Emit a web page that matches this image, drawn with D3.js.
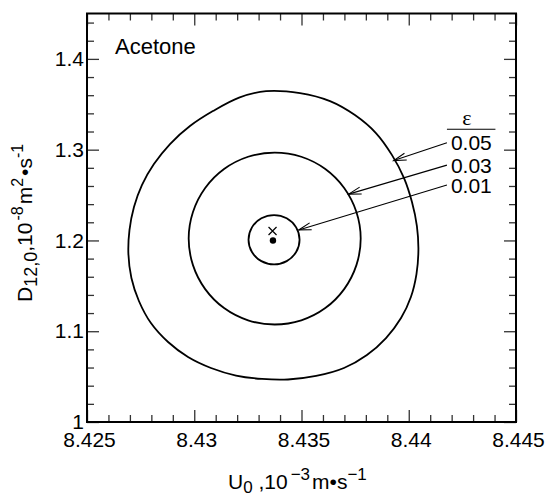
<!DOCTYPE html>
<html>
<head>
<meta charset="utf-8">
<script src="https://cdn.jsdelivr.net/npm/d3@7"></script>
<style>
  html, body { margin: 0; padding: 0; background: #fff; }
  svg { display: block; font-family: "Liberation Sans", Arial, sans-serif; }
</style>
</head>
<body>
<svg id="chart" width="547" height="494"></svg>
<script>
// ---------- data ----------
const xDomain = [8.425, 8.445];
const yDomain = [1.0, 1.45];
const xMajorTicks = [8.425, 8.43, 8.435, 8.44, 8.445];
const xTickLabels = ["8.425", "8.43", "8.435", "8.44", "8.445"];
const yMajorTicks = [1.0, 1.1, 1.2, 1.3, 1.4];
const yTickLabels = ["1", "1.1", "1.2", "1.3", "1.4"];

// contour eps = 0.05 (U0 in 1e-3 m/s, D in 1e-8 m2/s)
const outerU = [8.43335, 8.43493, 8.43633, 8.43749, 8.43847, 8.43922, 8.43978, 8.44015, 8.44038, 8.44045, 8.44036, 8.44010, 8.43964, 8.43894, 8.43805, 8.43698, 8.43568, 8.43437, 8.43316, 8.43195, 8.43078, 8.42971, 8.42878, 8.42798, 8.42742, 8.42707, 8.42693, 8.42698, 8.42719, 8.42756, 8.42812, 8.42887, 8.42980, 8.43087, 8.43209];
const outerD = [1.3645, 1.3623, 1.3535, 1.3381, 1.3183, 1.2940, 1.2687, 1.2423, 1.2159, 1.1894, 1.1630, 1.1377, 1.1145, 1.0925, 1.0738, 1.0595, 1.0507, 1.0468, 1.0474, 1.0512, 1.0595, 1.0716, 1.0881, 1.1090, 1.1333, 1.1586, 1.1850, 1.2114, 1.2368, 1.2610, 1.2841, 1.3062, 1.3260, 1.3425, 1.3574];
// contour eps = 0.03
const midU = [8.43776, 8.43756, 8.43699, 8.43611, 8.43499, 8.43375, 8.43251, 8.43139, 8.43051, 8.42994, 8.42974, 8.42994, 8.43051, 8.43139, 8.43251, 8.43375, 8.43499, 8.43611, 8.43699, 8.43756];
const midD = [1.2021, 1.2314, 1.2578, 1.2787, 1.2922, 1.2968, 1.2922, 1.2787, 1.2578, 1.2314, 1.2021, 1.1728, 1.1464, 1.1255, 1.1120, 1.1074, 1.1120, 1.1255, 1.1464, 1.1728];
// contour eps = 0.01
const innerU = [8.43491, 8.43475, 8.43431, 8.43372, 8.43313, 8.43269, 8.43253, 8.43269, 8.43313, 8.43372, 8.43431, 8.43475];
const innerD = [1.2008, 1.2144, 1.2244, 1.2280, 1.2244, 1.2144, 1.2008, 1.1872, 1.1772, 1.1736, 1.1772, 1.1872];

// exact solution (dot) and estimate (cross)
const dotPoint = [8.43367, 1.2000];
const crossPoint = [8.43365, 1.2104];

// legend labels and arrows (tail -> tip)
const epsLabels = ["0.05", "0.03", "0.01"];
const arrowTailU = [8.44178, 8.44178, 8.44178];
const arrowTailD = [1.3076, 1.2830, 1.2610];
const arrowTipU = [8.43930, 8.43720, 8.43487];
const arrowTipD = [1.2880, 1.2510, 1.2116];

// ---------- layout ----------
const svg = d3.select("#chart");
const L = 87, R = 516, T = 13.5, B = 422;
const x = d3.scaleLinear().domain(xDomain).range([L, R]);
const y = d3.scaleLinear().domain(yDomain).range([B, T]);

const xMinor = d3.range(0, 21).map(i => 8.425 + i * 0.001).filter(v => !xMajorTicks.some(m => Math.abs(m - v) < 1e-7));
const yMinor = d3.range(0, 23).map(i => 1.0 + i * 0.02).filter(v => v <= 1.4501 && !yMajorTicks.some(m => Math.abs(m - v) < 1e-7));

const tickStroke = "#333";
function styleAxis(g) {
  g.select(".domain").remove();
  g.selectAll(".tick line").attr("stroke", tickStroke).attr("stroke-width", 1.3);
}

// bottom
svg.append("g").attr("transform", `translate(0,${B})`)
  .call(d3.axisBottom(x).tickValues(xMajorTicks).tickSize(-12).tickPadding(10)
    .tickFormat((d, i) => xTickLabels[i]))
  .call(styleAxis)
  .call(g => g.selectAll("text").attr("font-size", 21).attr("fill", "#000")
    .attr("font-family", "Liberation Sans, Arial, sans-serif").attr("dx", 2));
svg.append("g").attr("transform", `translate(0,${B})`)
  .call(d3.axisBottom(x).tickValues(xMinor).tickSize(-7).tickFormat(""))
  .call(styleAxis);
// top
svg.append("g").attr("transform", `translate(0,${T})`)
  .call(d3.axisTop(x).tickValues(xMajorTicks).tickSize(-12).tickFormat(""))
  .call(styleAxis);
svg.append("g").attr("transform", `translate(0,${T})`)
  .call(d3.axisTop(x).tickValues(xMinor).tickSize(-7).tickFormat(""))
  .call(styleAxis);
// left
svg.append("g").attr("transform", `translate(${L},0)`)
  .call(d3.axisLeft(y).tickValues(yMajorTicks).tickSize(-12).tickPadding(3)
    .tickFormat((d, i) => yTickLabels[i]))
  .call(styleAxis)
  .call(g => g.selectAll("text").attr("font-size", 21).attr("fill", "#000")
    .attr("font-family", "Liberation Sans, Arial, sans-serif"));
svg.append("g").attr("transform", `translate(${L},0)`)
  .call(d3.axisLeft(y).tickValues(yMinor).tickSize(-7).tickFormat(""))
  .call(styleAxis);
// right
svg.append("g").attr("transform", `translate(${R},0)`)
  .call(d3.axisRight(y).tickValues(yMajorTicks).tickSize(-12).tickFormat(""))
  .call(styleAxis);
svg.append("g").attr("transform", `translate(${R},0)`)
  .call(d3.axisRight(y).tickValues(yMinor).tickSize(-7).tickFormat(""))
  .call(styleAxis);

// frame
svg.append("rect").attr("x", L).attr("y", T).attr("width", R - L).attr("height", B - T)
  .attr("fill", "none").attr("stroke", "#000").attr("stroke-width", 2);

// contours
const line = d3.line().x(d => x(d[0])).y(d => y(d[1])).curve(d3.curveCatmullRomClosed.alpha(0.5));
const contours = [
  outerU.map((u, i) => [u, outerD[i]]),
  midU.map((u, i) => [u, midD[i]]),
  innerU.map((u, i) => [u, innerD[i]])
];
svg.append("g").selectAll("path").data(contours).join("path")
  .attr("d", line).attr("fill", "none").attr("stroke", "#000").attr("stroke-width", 1.8);

// dot
svg.append("circle").attr("cx", x(dotPoint[0])).attr("cy", y(dotPoint[1])).attr("r", 3.2).attr("fill", "#000");
// cross
const cx = x(crossPoint[0]), cy = y(crossPoint[1]), cs = 4;
svg.append("path").attr("d", `M${cx - cs},${cy - cs}L${cx + cs},${cy + cs}M${cx - cs},${cy + cs}L${cx + cs},${cy - cs}`)
  .attr("stroke", "#000").attr("stroke-width", 1.2).attr("fill", "none");

// arrows
const arrows = epsLabels.map((lab, i) => ({
  lab, x1: x(arrowTailU[i]), y1: y(arrowTailD[i]), x2: x(arrowTipU[i]), y2: y(arrowTipD[i])
}));
const ag = svg.append("g");
arrows.forEach(a => {
  ag.append("line").attr("x1", a.x1).attr("y1", a.y1).attr("x2", a.x2).attr("y2", a.y2)
    .attr("stroke", "#000").attr("stroke-width", 1.1);
  const ang = Math.atan2(a.y1 - a.y2, a.x1 - a.x2);
  const hl = 13, ha = 0.28;
  const p1 = [a.x2 + hl * Math.cos(ang + ha), a.y2 + hl * Math.sin(ang + ha)];
  const p2 = [a.x2 + hl * Math.cos(ang - ha), a.y2 + hl * Math.sin(ang - ha)];
  ag.append("path").attr("d", `M${p1[0]},${p1[1]}L${a.x2},${a.y2}L${p2[0]},${p2[1]}`)
    .attr("stroke", "#000").attr("stroke-width", 1.1).attr("fill", "none");
  ag.append("text").attr("x", a.x1 + 4).attr("y", a.y1 + 7.5).attr("font-size", 21).attr("fill", "#000").text(a.lab);
});
// epsilon header
const hx = arrows[0].x1;
svg.append("text").attr("x", hx + 20).attr("y", 125).attr("text-anchor", "middle")
  .attr("font-family", "Liberation Serif, Times New Roman, serif").attr("font-size", 22).text("ε");
svg.append("line").attr("x1", hx).attr("x2", hx + 48.5).attr("y1", 129.3).attr("y2", 129.3)
  .attr("stroke", "#000").attr("stroke-width", 1.1);

// Acetone label
svg.append("text").attr("x", 115).attr("y", 54).attr("font-size", 22).attr("fill", "#000").text("Acetone");

// x axis title
const xt = svg.append("text").attr("x", 228).attr("y", 489).attr("font-size", 21).attr("fill", "#000");
xt.append("tspan").text("U");
xt.append("tspan").attr("font-size", 17).attr("dy", 4).text("0");
xt.append("tspan").attr("dy", -4).text(" ,10");
xt.append("tspan").attr("font-size", 17).attr("dy", -9).attr("dx", 3).text("\u22123");
xt.append("tspan").attr("dy", 9).attr("dx", 2).text("m\u2022s");
xt.append("tspan").attr("font-size", 17).attr("dy", -9).text("\u22121");

// y axis title
const yt = svg.append("text").attr("transform", "translate(32,302) rotate(-90)").attr("font-size", 21).attr("fill", "#000");
yt.append("tspan").text("D");
yt.append("tspan").attr("font-size", 18).attr("dy", 5).text("12,0");
yt.append("tspan").attr("dy", -5).text(",10");
yt.append("tspan").attr("font-size", 16).attr("dy", -9).attr("dx", 2).text("-8");
yt.append("tspan").attr("dy", 9).attr("dx", 2).text("m");
yt.append("tspan").attr("font-size", 16).attr("dy", -9).text("2");
yt.append("tspan").attr("dy", 9).attr("dx", 2).text("\u2022s");
yt.append("tspan").attr("font-size", 16).attr("dy", -9).text("-1");
</script>
</body>
</html>
